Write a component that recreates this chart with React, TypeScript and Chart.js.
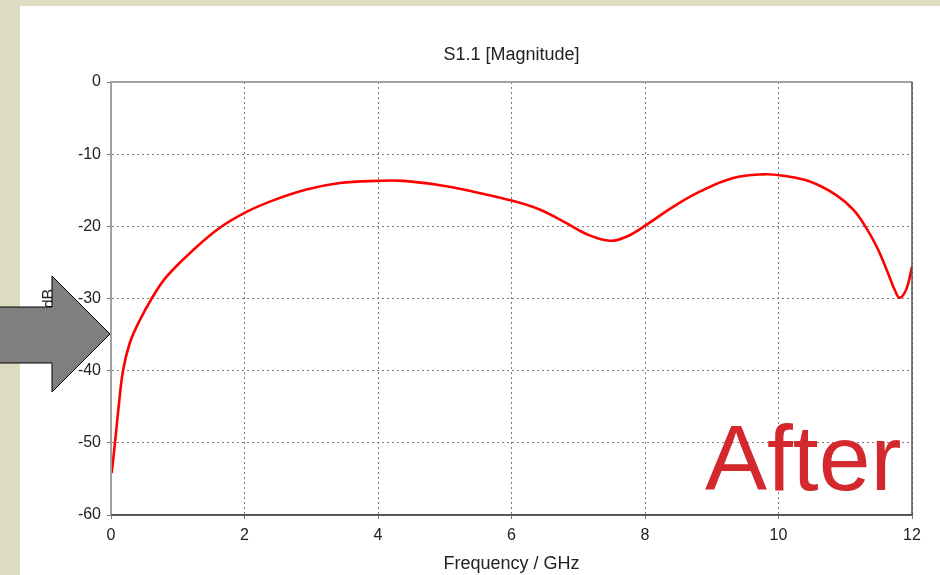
import React, { useEffect, useRef } from "react";
import { Chart, registerables } from "chart.js";

Chart.register(...registerables);

const freqGHz = [0.01, 0.06, 0.11, 0.18, 0.28, 0.41, 0.61, 0.83, 1.23, 1.63, 2.03, 2.43, 2.93, 3.43, 4.0, 4.38, 4.93, 5.43, 6.03, 6.43, 6.83, 7.13, 7.48, 7.73, 8.02, 8.42, 8.82, 9.32, 9.77, 10.07, 10.47, 10.87, 11.12, 11.3, 11.47, 11.62, 11.75, 11.82, 11.92, 12.0];
const s11dB = [-54.2, -50, -45.4, -40, -36.2, -33.4, -30, -27, -23.3, -20.2, -18.0, -16.4, -14.9, -14.0, -13.7, -13.7, -14.3, -15.2, -16.5, -17.7, -19.6, -21.1, -22.0, -21.4, -19.8, -17.3, -15.2, -13.3, -12.8, -13.0, -13.8, -15.7, -17.7, -20.0, -22.8, -26.0, -29.0, -29.9, -28.6, -25.6];

const chartTitle = "S1.1 [Magnitude]";
const xTitle = "Frequency / GHz";
const yTitle = "dB";
const overlayText = "After";

const FONT = "'Liberation Sans', Arial, sans-serif";

const decorPlugin = {
  id: "decor",
  beforeDraw(chart: any) {
    const { ctx, width, height } = chart;
    ctx.save();
    ctx.fillStyle = "#dedcc0";
    ctx.fillRect(0, 0, width, height);
    ctx.fillStyle = "#ffffff";
    ctx.fillRect(20, 6, width - 20, height - 6);
    ctx.restore();
  },
  afterDraw(chart: any) {
    const { ctx, chartArea } = chart;
    const { left, right, top, bottom } = chartArea;
    ctx.save();
    // title centred over the plot area
    ctx.fillStyle = "#222222";
    ctx.font = `18px ${FONT}`;
    ctx.textAlign = "center";
    ctx.textBaseline = "middle";
    ctx.fillText(chartTitle, (left + right) / 2, 55);
    // frame
    ctx.lineWidth = 2;
    ctx.strokeStyle = "#a0a0a0";
    ctx.beginPath();
    ctx.moveTo(left, bottom);
    ctx.lineTo(left, top);
    ctx.lineTo(right, top);
    ctx.stroke();
    ctx.lineWidth = 1.5;
    ctx.strokeStyle = "#505050";
    ctx.beginPath();
    ctx.moveTo(left, bottom);
    ctx.lineTo(right, bottom);
    ctx.lineTo(right, top);
    ctx.stroke();
    // arrow
    ctx.beginPath();
    ctx.moveTo(-2, 307);
    ctx.lineTo(52, 307);
    ctx.lineTo(52, 276);
    ctx.lineTo(110, 334);
    ctx.lineTo(52, 392);
    ctx.lineTo(52, 363);
    ctx.lineTo(-2, 363);
    ctx.closePath();
    ctx.fillStyle = "#7f7f7f";
    ctx.fill();
    ctx.lineWidth = 1;
    ctx.strokeStyle = "#000000";
    ctx.stroke();
    // overlay text
    ctx.fillStyle = "#d2282e";
    ctx.font = `93px ${FONT}`;
    ctx.textAlign = "left";
    ctx.textBaseline = "alphabetic";
    ctx.fillText(overlayText, 705, 490);
    ctx.restore();
  },
};

export default function App() {
  const ref = useRef<HTMLCanvasElement | null>(null);
  useEffect(() => {
    document.body.style.margin = "0";
    const canvas = ref.current;
    if (!canvas) return;
    const points = freqGHz.map((f, i) => ({ x: f, y: s11dB[i] }));
    const tickFont = { family: FONT, size: 16 };
    const chart = new Chart(canvas, {
      type: "line",
      data: {
        datasets: [
          {
            data: points,
            borderColor: "#ff0000",
            borderWidth: 2.6,
            pointRadius: 0,
            fill: false,
            tension: 0.4,
          },
        ],
      },
      plugins: [decorPlugin],
      options: {
        animation: false,
        responsive: false,
        maintainAspectRatio: false,
        layout: { padding: { top: 82, right: 28, bottom: 0, left: 0 } },
        plugins: {
          legend: { display: false },
          tooltip: { enabled: false },
          title: { display: false },
        },
        scales: {
          x: {
            type: "linear",
            min: 0,
            max: 12,
            ticks: { stepSize: 2, color: "#222222", font: tickFont, padding: 7 },
            grid: {
              color: "#7a7a7a",
              tickLength: 4,
              tickColor: "#7a7a7a",
            } as any,
            border: { display: true, color: "#505050", width: 1.5, dash: [2, 3] } as any,
            title: {
              display: true,
              text: xTitle,
              color: "#222222",
              font: { family: FONT, size: 18 },
              padding: { top: 0, bottom: 0 },
            },
            afterFit(scale: any) {
              scale.height = 60;
            },
          },
          y: {
            min: -60,
            max: 0,
            ticks: { stepSize: 10, color: "#222222", font: tickFont, padding: 6 },
            grid: {
              color: "#7a7a7a",
              tickLength: 4,
              tickColor: "#7a7a7a",
            } as any,
            border: { display: true, color: "#a0a0a0", width: 2, dash: [2, 3] } as any,
            title: {
              display: true,
              text: yTitle,
              color: "#222222",
              font: { family: FONT, size: 16 },
              padding: { top: 40, bottom: 0 },
            },
            afterFit(scale: any) {
              scale.width = 111;
            },
          },
        },
      } as any,
    });
    return () => chart.destroy();
  }, []);
  return (
    <div style={{ position: "absolute", left: 0, top: 0, width: 940, height: 575 }}>
      <canvas ref={ref} width={940} height={575} style={{ display: "block", width: 940, height: 575 }} />
    </div>
  );
}
